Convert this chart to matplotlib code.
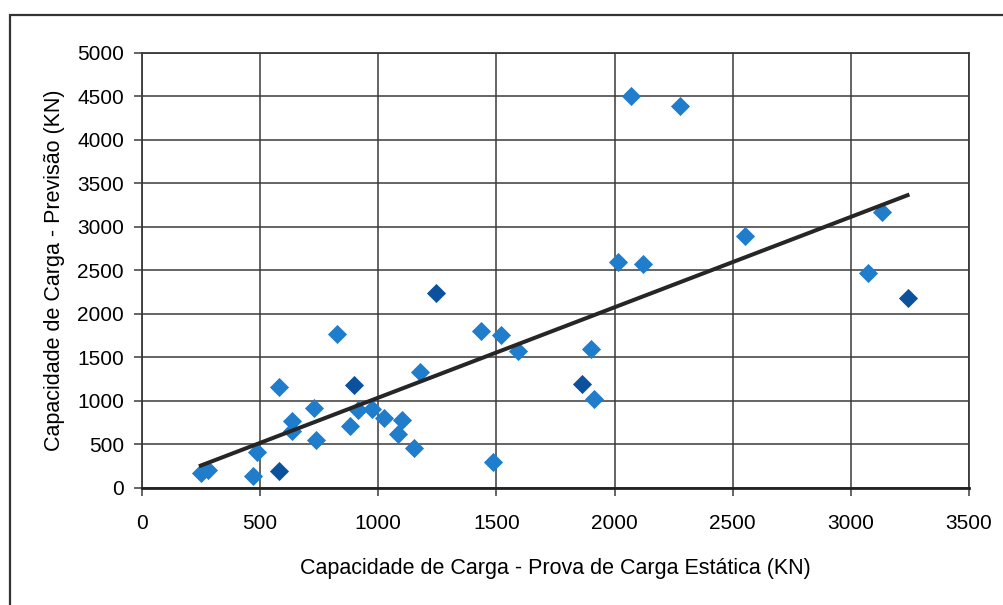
from matplotlib import pyplot as plt
from matplotlib.patches import Rectangle
import numpy as np

plt.rcParams['font.family'] = ['Liberation Sans', 'DejaVu Sans']

# prova de carga estatica (x) vs previsao (y), kN
x_light = [249, 278, 472, 486, 580, 827, 633, 637, 726, 736, 881, 915, 975, 1025,
           1102, 1085, 1152, 1177, 1433, 1518, 1591, 1486, 1899, 1915,
           2068, 2279, 2016, 2120, 2551, 3132, 3073]
y_light = [169, 206, 141, 409, 1166, 1766, 772, 657, 925, 550, 715, 894, 906, 810,
           784, 619, 459, 1330, 1808, 1755, 1575, 295, 1594, 1021,
           4511, 4392, 2600, 2577, 2894, 3173, 2470]
x_dark = [580, 898, 1246, 1863, 3240]
y_dark = [199, 1189, 2244, 1200, 2187]

trend_slope = 1.039
trend_intercept = -1

xticks = [0, 500, 1000, 1500, 2000, 2500, 3000, 3500]
yticks = [0, 500, 1000, 1500, 2000, 2500, 3000, 3500, 4000, 4500, 5000]

fig = plt.figure(figsize=(10.04, 6.05), dpi=100)
ax = fig.add_axes([0.1414, 0.1934, 0.8237, 0.719])

# outer frame (runs off the right/bottom of the picture)
fig.patches.append(Rectangle((10/1004, -0.1), 1.2, 0.1 + (605-15)/605.,
                             transform=fig.transFigure, fill=False,
                             edgecolor='#333333', linewidth=1.6))

ax.scatter(x_light, y_light, marker='D', s=95, color='#1f7dcc', zorder=3, linewidths=0)
ax.scatter(x_dark, y_dark, marker='D', s=95, color='#0b519e', zorder=3, linewidths=0)

allx = np.array(x_light + x_dark)
tx = np.array([allx.min(), allx.max()])
ax.plot(tx, trend_slope*tx + trend_intercept, color='#262626', linewidth=2.9, zorder=4)

ax.set_xlim(0, 3500)
ax.set_ylim(0, 5000)
ax.set_xticks(xticks)
ax.set_yticks(yticks)
ax.grid(True, color='#3a3a3a', linewidth=1.1)
ax.set_axisbelow(True)
for s in ax.spines.values():
    s.set_color('#3a3a3a')
    s.set_linewidth(1.3)
ax.spines['bottom'].set_linewidth(2.0)
ax.spines['bottom'].set_color('#222222')
ax.tick_params(labelsize=15, length=6, width=1.1, color='#3a3a3a', pad=7)
ax.tick_params(axis='x', pad=13)

ax.set_xlabel('Capacidade de Carga - Prova de Carga Estática (KN)', fontsize=15.5, labelpad=18)
ax.set_ylabel('Capacidade de Carga - Previsão (KN)', fontsize=15.5, labelpad=9)

plt.savefig('out.png', dpi=100)
